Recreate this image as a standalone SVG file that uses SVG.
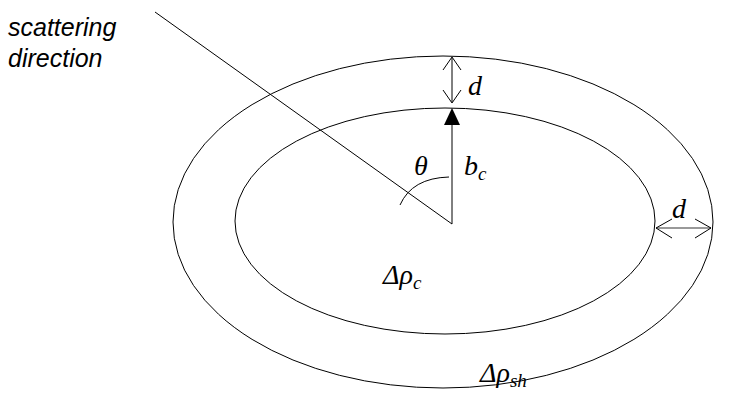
<svg xmlns="http://www.w3.org/2000/svg" width="744" height="412" viewBox="0 0 744 412">
<style>
.l{fill:none;stroke:#000;stroke-width:1}
.m{font-family:"Liberation Serif",serif;font-style:italic;font-size:28px}
.s{font-family:"Liberation Sans",sans-serif;font-style:italic;font-size:25px}
</style>
<rect width="744" height="412" fill="#fff"/>
<g id="outer"><ellipse class="l" cx="443" cy="222" rx="270" ry="166"/><text class="m" x="480" y="382">Δρ<tspan font-size="19" dy="5">sh</tspan></text></g>
<g id="inner"><ellipse class="l" cx="445" cy="221" rx="210" ry="113"/><text class="m" x="383" y="284">Δρ<tspan font-size="19" dy="5">c</tspan></text></g>
<g id="connectors">
<line class="l" x1="155" y1="12" x2="452" y2="224"/>
<line class="l" x1="452" y1="224" x2="452" y2="122"/>
<polygon points="452,108 444,125 460,125" fill="#000"/>
<path class="l" d="M449,177 Q412,178 400,205"/>
<line class="l" x1="452" y1="58" x2="452" y2="102"/>
<polyline class="l" points="443,70 452,57 461,70"/>
<polyline class="l" points="443,90 452,103 461,90"/>
<line x1="656" y1="228" x2="711" y2="228" stroke="#777" stroke-width="1.3"/>
<polyline class="l" points="672,219 656,228 672,238"/>
<polyline class="l" points="695,219 711,228 695,238"/>
</g>
<g id="labels">
<text class="s" x="8" y="36">scattering</text>
<text class="s" x="8" y="67">direction</text>
<text class="m" x="468" y="95">d</text>
<text class="m" x="672" y="218">d</text>
<text class="m" x="414" y="175">θ</text>
<text class="m" x="464" y="175">b<tspan font-size="19" dy="5">c</tspan></text>
</g>
</svg>
